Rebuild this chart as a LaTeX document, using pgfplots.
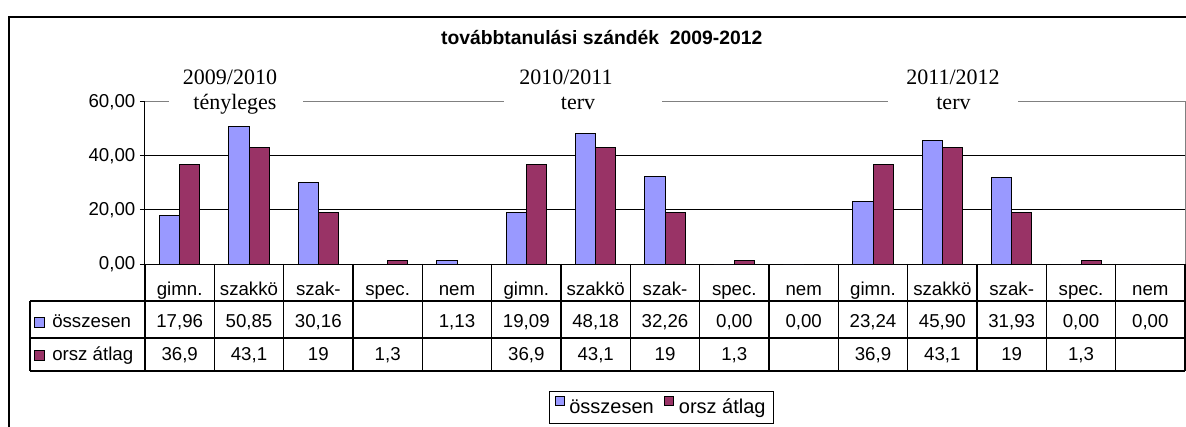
\documentclass[border=0pt]{standalone}
\usepackage{pgfplots}
\pgfplotsset{compat=1.18}
\usepackage{fontspec}
\setmainfont{Liberation Sans}
\newfontfamily\tnr{Liberation Serif}
\definecolor{xblue}{HTML}{9999FF}
\definecolor{xred}{HTML}{993366}
\definecolor{xgray}{HTML}{808080}
\newcommand{\fA}{\fontsize{14}{16}\selectfont}
\begin{document}
\begin{tikzpicture}
\useasboundingbox (0,0) rectangle (889.5pt,-320.25pt);
\clip (0,0) rectangle (889.5pt,-320.25pt);
% outer frame
\draw[line width=1.5pt] (7.1pt,-12.4pt) rectangle (900pt,-340pt);
% title
\node[anchor=base, font=\bfseries\fontsize{14.5}{17}\selectfont, inner sep=0pt] at (451.3pt,-33.5pt) {továbbtanulási szándék\ \ 2009-2012};
\begin{axis}[
  at={(108.75pt,-198pt)}, anchor=south west,
  scale only axis, width=780pt, height=121.5pt,
  xmin=-0.5, xmax=14.5, ymin=0, ymax=60,
  axis x line*=bottom, axis y line*=left,
  axis line style={-, line width=0.75pt, black},
  ytick={0,20,40,60}, yticklabels={{0,00},{20,00},{40,00},{60,00}},
  tick align=outside, major tick length=3.75pt,
  ytick style={line width=0.75pt, black},
  xtick={0,...,14},
  xticklabels={gimn.,szakkö,szak-,spec.,nem,gimn.,szakkö,szak-,spec.,nem,gimn.,szakkö,szak-,spec.,nem},
  xtick style={draw=none},
  xticklabel style={anchor=base, yshift=-19.5pt},
  tick label style={font=\fA},
  ymajorgrids, grid style={line width=0.75pt, black},
  ybar, bar width=0.29,
  clip=false,
  sq/.style={legend image code/.code={\draw[##1,/tikz/.cd,bar shift=0pt,draw=black,line width=0.6pt] (0pt,1.5pt) rectangle (6.75pt,8.25pt);}},
  legend style={at={(axis description cs:0.38846,-0.78395)}, anchor=north west,
    draw=black, line width=0.75pt, font=\fontsize{15}{17}\selectfont, legend columns=2,
    inner xsep=4pt, inner ysep=3.5pt,
    /tikz/every odd column/.append style={column sep=1.5pt},
    /tikz/every even column/.append style={column sep=6pt}},
]
\addplot[sq, fill=xblue, draw=black, line width=0.75pt, bar shift=-0.145] coordinates {
 (0,17.96) (1,50.85) (2,30.16) (4,1.13)
 (5,19.09) (6,48.18) (7,32.26) (8,0) (9,0)
 (10,23.24) (11,45.90) (12,31.93) (13,0) (14,0)};
\addlegendentry{összesen}
\addplot[sq, fill=xred, draw=black, line width=0.75pt, bar shift=0.145] coordinates {
 (0,36.9) (1,43.1) (2,19) (3,1.3)
 (5,36.9) (6,43.1) (7,19) (8,1.3)
 (10,36.9) (11,43.1) (12,19) (13,1.3)};
\addlegendentry{orsz átlag}
\end{axis}
% plot area border (gray)
\draw[xgray, line width=0.75pt] (108.75pt,-76.5pt) -- (888.75pt,-76.5pt) -- (888.75pt,-198pt);
% data table
\begin{scope}[line width=0.9pt]
 \draw (22.5pt,-225.75pt) -- (888.75pt,-225.75pt);
 \draw (22.5pt,-253.5pt) -- (888.75pt,-253.5pt);
 \draw (22.5pt,-278.25pt) -- (888.75pt,-278.25pt);
 \draw (22.5pt,-225.75pt) -- (22.5pt,-278.25pt);
 \foreach \k in {0,...,15} \draw ({108.75pt+52pt*\k},-198pt) -- ({108.75pt+52pt*\k},-278.25pt);
\end{scope}
\foreach \v [count=\i from 0] in {{17,96},{50,85},{30,16},{},{1,13},{19,09},{48,18},{32,26},{0,00},{0,00},{23,24},{45,90},{31,93},{0,00},{0,00}}
  \node[anchor=base, font=\fA, inner sep=0pt] at ({134.75pt+52pt*\i},-245.5pt) {\v};
\foreach \v [count=\i from 0] in {{36,9},{43,1},{19},{1,3},{},{36,9},{43,1},{19},{1,3},{},{36,9},{43,1},{19},{1,3},{}}
  \node[anchor=base, font=\fA, inner sep=0pt] at ({134.75pt+52pt*\i},-270.5pt) {\v};
\draw[fill=xblue, line width=0.6pt] (25.5pt,-245.2pt) rectangle (33pt,-237.7pt);
\draw[fill=xred, line width=0.6pt] (25.5pt,-270.2pt) rectangle (33pt,-262.7pt);
\node[anchor=base west, font=\fA, inner sep=0pt] at (39pt,-245.5pt) {összesen};
\node[anchor=base west, font=\fA, inner sep=0pt] at (39pt,-270.5pt) {orsz átlag};
% annotations
\fill[white] (126.75pt,-72pt) rectangle (227.25pt,-81pt);
\fill[white] (378pt,-72pt) rectangle (496.5pt,-81pt);
\fill[white] (666pt,-72pt) rectangle (763.5pt,-81pt);
\begin{scope}[every node/.style={anchor=base, inner sep=0pt, font=\tnr\fontsize{16.5}{19}\selectfont}]
 \node at (172.5pt,-63.75pt) {2009/2010};
 \node at (176.25pt,-82.5pt) {tényleges};
 \node at (424.5pt,-63.75pt) {2010/2011};
 \node at (433.5pt,-82.5pt) {terv};
 \node at (714.75pt,-63.75pt) {2011/2012};
 \node at (715.1pt,-82.5pt) {terv};
\end{scope}
\end{tikzpicture}
\end{document}
